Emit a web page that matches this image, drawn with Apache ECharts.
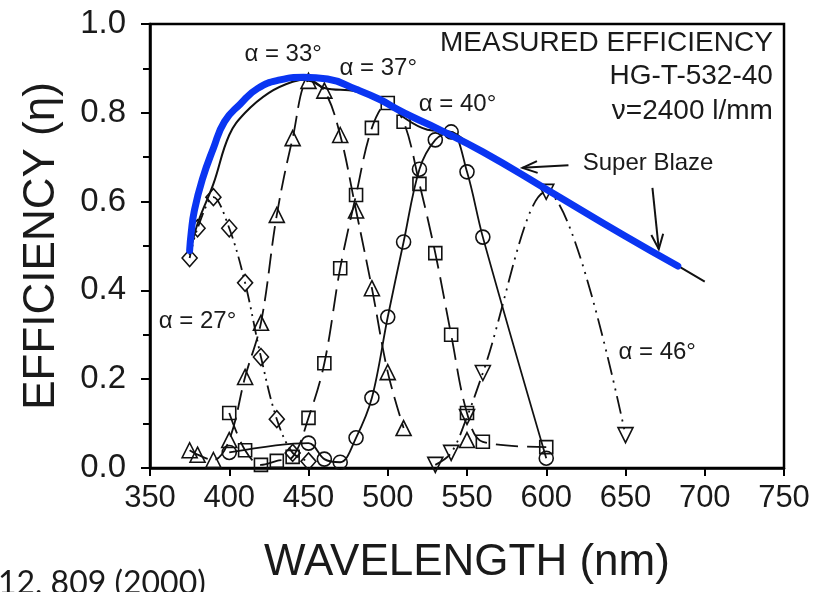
<!DOCTYPE html>
<html><head><meta charset="utf-8">
<script src="https://cdn.jsdelivr.net/npm/echarts@6/dist/echarts.min.js"></script>
<style>html,body{margin:0;padding:0;background:#fff}#c{width:820px;height:592px}</style>
</head><body><div id="c"></div>
<script>
// ---- data (wavelength nm, efficiency) ----
const alpha27 = [[375,0.473],[380,0.54],[390,0.61],[400,0.54],[410,0.417],[420,0.25],[430,0.11],[440,0.034],[450,0.015]];
const alpha33 = [[375,0.04],[380,0.03],[390,0.018],[400,0.063],[410,0.205],[420,0.327],[430,0.57],[440,0.743],[450,0.872],[460,0.85],[470,0.75],[480,0.58],[490,0.405],[500,0.216],[510,0.09]];
const alpha33b = [[550,0.063]];
const alpha37 = [[400,0.124],[410,0.04],[420,0.007],[430,0.016],[440,0.025],[450,0.113],[460,0.236],[470,0.45],[480,0.615],[490,0.766],[500,0.822],[510,0.78],[520,0.64],[530,0.484],[540,0.30],[550,0.124],[560,0.059],[600,0.047]];
const alpha40 = [[400,0.035],[450,0.056],[460,0.02],[470,0.013],[480,0.068],[490,0.158],[500,0.34],[510,0.509],[520,0.673],[530,0.739],[540,0.757],[550,0.667],[560,0.52],[600,0.022]];
const alpha46 = [[530,0.007],[540,0.034],[550,0.115],[560,0.214],[600,0.622],[650,0.074]];
const superBlaze = [[375,0.48],[380,0.55],[390,0.64],[400,0.75],[410,0.80],[425,0.845],[440,0.87],[450,0.875],[460,0.856],[480,0.848],[500,0.822],[510,0.79],[525,0.762],[540,0.757],[550,0.735],[600,0.63],[650,0.525],[700,0.42]];
const blueFit = [[375,0.49],[376,0.53],[378,0.58],[383,0.65],[390,0.72],[397,0.78],[407,0.82],[418,0.855],[432,0.874],[447,0.88],[462,0.876],[480,0.853],[495,0.83],[505,0.81],[516,0.79],[531,0.765],[560,0.712],[600,0.628],[650,0.522],[683,0.455]];
const xTicks = [350,400,450,500,550,600,650,700,750];
const yTicks = [0.0,0.2,0.4,0.6,0.8,1.0];
const labels = [
  {t:'α = 33°', at:[434,0.932], align:'center'},
  {t:'α = 37°', at:[494,0.901], align:'center'},
  {t:'α = 40°', at:[544,0.82], align:'center'},
  {t:'α = 27°', at:[380,0.331], align:'center'},
  {t:'α = 46°', at:[670,0.261], align:'center'},
  {t:'Super Blaze', at:[623,0.685], align:'left'}
];
const boxText = [
  {t:'MEASURED EFFICIENCY', at:[743,0.957]},
  {t:'HG-T-532-40', at:[743,0.883]},
  {t:'ν=2400 l/mm', at:[743,0.804]}
];
const arrows = [
  {from:[614,0.682], to:[585,0.676]},
  {from:[667,0.631], to:[671,0.493]}
];

const chart = echarts.init(document.getElementById('c'), null, {renderer:'canvas'});
const FONT = '"Liberation Sans", Arial, Helvetica, sans-serif';
function ser(name, data, symbol, size, dash, rot){
  return {name, type:'line', data, smooth:0.35, symbol, symbolSize:size, symbolRotate:rot||0,
    showSymbol:true,
    lineStyle:{color:'#111', width:1.8, type:dash},
    itemStyle:{color:'rgba(0,0,0,0)', borderColor:'#111', borderWidth:1.6},
    emphasis:{disabled:true}, z:3};
}
const option = {
  animation:false,
  backgroundColor:'#fff',
  grid:{left:150, right:36, top:24, bottom:124, show:true, borderColor:'#000', borderWidth:2.5, backgroundColor:'rgba(0,0,0,0)'},
  xAxis:{type:'value', min:350, max:750, interval:50,
    axisLine:{show:true, lineStyle:{color:'#000', width:2.5}},
    axisTick:{show:true, length:8, lineStyle:{color:'#000', width:2}},
    splitLine:{show:false},
    axisLabel:{margin:15, fontSize:31, fontFamily:FONT, color:'#1a1a1a', formatter:v=>String(v)},
    name:'WAVELENGTH (nm)', nameLocation:'middle', nameGap:73,
    nameTextStyle:{fontSize:44, fontFamily:FONT, color:'#1a1a1a'}},
  yAxis:{type:'value', min:0, max:1, interval:0.2,
    axisLine:{show:true, lineStyle:{color:'#000', width:2.5}},
    axisTick:{show:true, length:9, lineStyle:{color:'#000', width:2}},
    minorTick:{show:true, splitNumber:2, length:7, lineStyle:{color:'#000', width:2}},
    splitLine:{show:false},
    axisLabel:{margin:24, fontSize:33, fontFamily:FONT, color:'#1a1a1a', formatter:v=>v.toFixed(1)},
    name:'EFFICIENCY (η)', nameLocation:'middle', nameGap:86, nameRotate:90,
    nameTextStyle:{fontSize:44, fontFamily:FONT, color:'#1a1a1a'}},
  series:[
    ser('α = 27°', alpha27, 'diamond', [15,17], [14,5,2,5,2,5]),
    ser('α = 33°', alpha33, 'triangle', 15, [20,8]),
    ser('α = 33° (2)', alpha33b, 'triangle', 15, 'solid'),
    ser('α = 37°', alpha37, 'rect', 13, [22,9]),
    ser('α = 40°', alpha40, 'circle', 14, 'solid'),
    ser('α = 46°', alpha46, 'triangle', 15, [18,6,2,6,2,6], 180),
    {name:'Super Blaze', type:'line', data:superBlaze, smooth:0.4, symbol:'none',
      lineStyle:{color:'#111', width:2}, z:4, emphasis:{disabled:true}},
    {name:'fit', type:'line', data:blueFit, smooth:0.5, symbol:'none',
      lineStyle:{color:'#0a35f2', width:7, cap:'round', join:'round'}, z:6, emphasis:{disabled:true}}
  ]
};
chart.setOption(option);

const g = [];
const px = p => chart.convertToPixel({gridIndex:0}, p);
labels.forEach(l => {
  const [x,y] = px(l.at);
  g.push({type:'text', x, y, z:10, style:{text:l.t, fontSize:24, fontFamily:FONT, fill:'#1a1a1a', align:l.align, verticalAlign:'middle'}});
});
boxText.forEach(l => {
  const [x,y] = px(l.at);
  g.push({type:'text', x, y, z:10, style:{text:l.t, fontSize:28, fontFamily:FONT, fill:'#1a1a1a', align:'right', verticalAlign:'middle'}});
});
arrows.forEach(a => {
  const [x1,y1] = px(a.from), [x2,y2] = px(a.to);
  const ang = Math.atan2(y2-y1, x2-x1), L = 16, s = 0.38;
  g.push({type:'line', z:10, shape:{x1,y1,x2,y2}, style:{stroke:'#111', lineWidth:2}});
  g.push({type:'polyline', z:10, shape:{points:[
    [x2 - L*Math.cos(ang - s), y2 - L*Math.sin(ang - s)], [x2,y2],
    [x2 - L*Math.cos(ang + s), y2 - L*Math.sin(ang + s)]]}, style:{stroke:'#111', lineWidth:2, fill:null}});
});
g.push({type:'text', x:-2, y:568, z:10, style:{text:'12, 809 (2000)', fontSize:32, fontFamily:'Lato, "Open Sans", sans-serif', fill:'#1a1a1a'}});
chart.setOption({graphic:g});
</script></body></html>
